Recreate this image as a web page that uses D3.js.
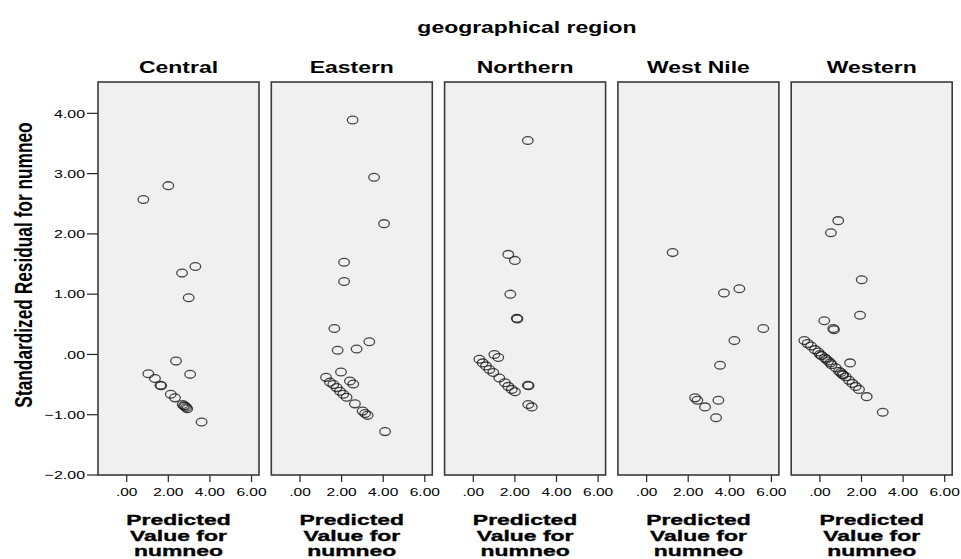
<!DOCTYPE html>
<html lang="en">
<head>
<meta charset="UTF-8">
<title>Standardized residuals by geographical region</title>
<script src="https://d3js.org/d3.v7.min.js"></script>
<style>
  body { margin: 0; background: #fff; }
  svg { display: block; font-family: "Liberation Sans", Arial, sans-serif; }
</style>
</head>
<body>
<svg id="chart" width="961" height="559"></svg>
<script>
// panel names and tick values
const regions = ["Central", "Eastern", "Northern", "West Nile", "Western"];
const xTicks = [0, 2, 4, 6];
const yTicks = [-2, -1, 0, 1, 2, 3, 4];
const xTitle = ["Predicted", "Value for", "numneo"];

// [predicted value, standardized residual]
const central = [
  [0.80, 2.57], [2.00, 2.80], [2.66, 1.35], [3.30, 1.46], [2.98, 0.94],
  [2.37, -0.11], [3.05, -0.33], [1.04, -0.32], [1.36, -0.40], [1.62, -0.51],
  [1.66, -0.52], [2.12, -0.66], [2.32, -0.72], [2.69, -0.83], [2.75, -0.85],
  [2.80, -0.86], [2.86, -0.88], [2.91, -0.90], [3.60, -1.12]
];
const eastern = [
  [2.53, 3.89], [3.56, 2.94], [4.04, 2.17], [2.12, 1.53], [2.12, 1.21],
  [1.65, 0.43], [1.81, 0.07], [2.72, 0.09], [3.33, 0.21], [1.97, -0.29],
  [1.25, -0.38], [2.40, -0.44], [2.56, -0.49], [1.44, -0.46], [1.60, -0.50],
  [1.76, -0.55], [1.92, -0.61], [2.08, -0.66], [2.24, -0.71], [2.64, -0.82],
  [3.01, -0.94], [3.13, -0.98], [3.25, -1.01], [4.09, -1.28]
];
const northern = [
  [2.62, 3.55], [1.68, 1.66], [2.00, 1.56], [1.78, 1.00], [2.09, 0.60],
  [2.12, 0.59], [1.01, 0.00], [1.20, -0.05], [0.29, -0.08], [0.45, -0.14],
  [0.61, -0.19], [0.77, -0.25], [0.96, -0.30], [1.25, -0.39], [1.52, -0.47],
  [1.68, -0.53], [1.85, -0.58], [2.00, -0.62], [2.62, -0.51], [2.66, -0.52],
  [2.64, -0.83], [2.81, -0.87]
];
const westNile = [
  [1.25, 1.69], [3.72, 1.02], [4.46, 1.09], [5.61, 0.43], [4.22, 0.23],
  [3.53, -0.18], [2.33, -0.72], [2.44, -0.76], [2.81, -0.87], [3.45, -0.76],
  [3.34, -1.05]
];
const western = [
  [0.88, 2.22], [0.53, 2.02], [2.01, 1.24], [1.93, 0.65], [0.21, 0.56],
  [0.64, 0.43], [0.68, 0.41], [-0.75, 0.23], [-0.59, 0.18], [-0.43, 0.14],
  [-0.24, 0.08], [-0.08, 0.04], [0.08, -0.02], [0.24, -0.06], [0.40, -0.11],
  [0.56, -0.17], [0.76, -0.22], [0.92, -0.28], [1.08, -0.33], [1.24, -0.37],
  [1.40, -0.43], [1.56, -0.48], [1.72, -0.53], [1.88, -0.58], [2.25, -0.70],
  [1.45, -0.14], [3.02, -0.96], [0.00, 0.00], [0.30, -0.08], [1.00, -0.30],
  [1.12, -0.34], [0.50, -0.14]
];
const series = [central, eastern, northern, westNile, western];

const sx = 1.35;              // the source picture is stretched sideways
const fmt = v => v === 0 ? ".00" : d3.format(".2f")(v);

const svg = d3.select("#chart");
const plotTop = 82, plotBottom = 475;
const left0 = 98, step = 173.3, panelW = 161;

const y = d3.scaleLinear().domain([-2, 4.52]).range([plotBottom, plotTop]);

function stretchedText(sel, x, yy, str, size, weight, anchor, k) {
  return sel.append("text")
    .attr("transform", `translate(${x},${yy}) scale(${k || sx},1)`)
    .attr("text-anchor", anchor || "middle")
    .attr("font-size", size)
    .attr("font-weight", weight || "normal")
    .attr("fill", "#000")
    .text(str);
}

// overall title
stretchedText(svg, 527, 33, "geographical region", 17, "bold");

// y axis title
svg.append("text")
  .attr("transform", `translate(32,265) scale(1.4,1) rotate(-90)`)
  .attr("text-anchor", "middle")
  .attr("font-size", 17.3)
  .attr("font-weight", "bold")
  .text("Standardized Residual for numneo");

// y axis ticks and labels
const yAxis = svg.append("g");
yTicks.forEach(t => {
  yAxis.append("line")
    .attr("x1", 87).attr("x2", left0)
    .attr("y1", y(t)).attr("y2", y(t))
    .attr("stroke", "#222").attr("stroke-width", 1.2);
  stretchedText(yAxis, 85, y(t) + 4.2, fmt(t), 11.8, "normal", "end");
});

regions.forEach((name, i) => {
  const x0 = left0 + i * step;
  const x = d3.scaleLinear().domain([-1.38, 6.36]).range([x0, x0 + panelW]);
  const g = svg.append("g");

  stretchedText(g, x0 + panelW / 2, 73, name, 17, "bold");

  g.append("rect")
    .attr("x", x0).attr("y", plotTop)
    .attr("width", panelW).attr("height", plotBottom - plotTop)
    .attr("fill", "#f0f0f0")
    .attr("stroke", "#3a3a3a").attr("stroke-width", 1.6);

  g.selectAll("ellipse").data(series[i]).enter().append("ellipse")
    .attr("cx", d => x(d[0]))
    .attr("cy", d => y(d[1]))
    .attr("rx", 5.3).attr("ry", 3.9)
    .attr("fill", "none")
    .attr("stroke", "#1a1a1a")
    .attr("stroke-opacity", 0.8)
    .attr("stroke-width", 1.3);

  xTicks.forEach(t => {
    g.append("line")
      .attr("x1", x(t)).attr("x2", x(t))
      .attr("y1", plotBottom).attr("y2", plotBottom + 7)
      .attr("stroke", "#222").attr("stroke-width", 1.2);
    stretchedText(g, x(t), 496, fmt(t), 11.5);
  });

  const cx = x0 + panelW / 2;
  xTitle.forEach((line, j) => {
    stretchedText(g, cx, 525 + j * 15.6, line, 15.5, "bold", "middle", 1.48)
      .attr("stroke", "#000").attr("stroke-width", 0.35);
  });
});
</script>
</body>
</html>
